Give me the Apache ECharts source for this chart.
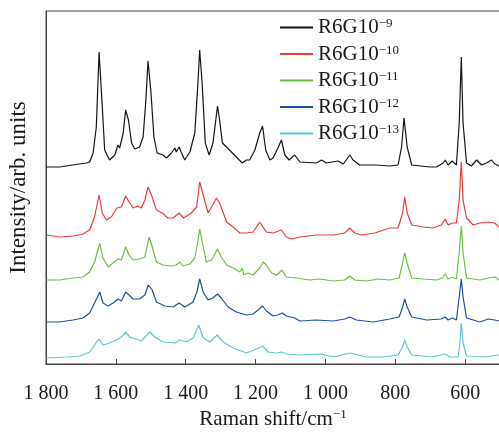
<!DOCTYPE html>
<html>
<head>
<meta charset="utf-8">
<style>html,body{margin:0;padding:0;background:#fff;}#chart{width:499px;height:432px;}</style>
<script src="https://cdn.jsdelivr.net/npm/echarts@6/dist/echarts.min.js"></script>
</head>
<body>
<div id="chart"></div>
<script>
// Raman shift (cm^-1) and intensity (arb. units, offset traces)
const shiftBlack = [1799,1761,1724,1684,1675,1665,1656,1648,1640,1632,1618,1603,1594,1589,1579,1572,1564,1555,1546,1532,1522,1514,1508,1500,1491,1482,1465,1455,1441,1431,1427,1419,1412,1403,1388,1374,1365,1360,1353,1344,1333,1322,1309,1303,1295,1283,1269,1255,1238,1226,1217,1202,1188,1180,1171,1159,1150,1136,1126,1116,1104,1088,1073,1026,1011,997,964,949,930,921,902,854,816,792,782,775,766,753,701,682,663,657,649,637,625,617,611,606,596,582,567,553,539,524,515,503];
const intBlack = [197,197,199,201,202,211,237,312,264,214,204,209,219,216,231,254,244,221,215,217,227,264,303,274,227,211,209,206,211,216,212,217,211,204,212,231,281,314,281,221,209,221,258,244,221,217,212,207,201,204,204,214,231,238,214,204,206,216,224,209,204,209,202,201,204,201,203,200,209,204,199,199,198,199,217,246,217,199,197,197,201,204,199,203,199,241,307,241,201,198,204,199,201,204,200,198];

const shiftRed = [1799,1761,1723,1694,1675,1661,1648,1639,1627,1613,1597,1584,1572,1562,1551,1538,1527,1517,1508,1498,1484,1467,1451,1436,1419,1406,1384,1369,1360,1350,1336,1323,1312,1303,1283,1264,1245,1226,1207,1188,1183,1169,1150,1126,1112,1097,1073,1026,978,945,930,916,897,859,816,792,779,773,766,753,720,692,668,657,649,637,625,617,611,606,596,577,558,534,515,503];
const intRed = [129,127,128,130,134,147,169,151,144,147,156,157,168,162,156,158,156,164,177,169,154,151,146,146,151,146,151,157,182,169,151,159,166,161,142,137,131,131,132,142,143,132,131,134,127,125,127,129,129,131,136,131,129,131,136,136,151,167,151,139,137,136,139,145,139,141,141,164,202,164,146,139,141,142,141,137];

const shiftGreen = [1799,1761,1723,1694,1675,1661,1646,1637,1622,1608,1594,1584,1572,1562,1551,1532,1517,1505,1495,1484,1465,1441,1427,1417,1408,1388,1374,1366,1360,1352,1341,1326,1309,1298,1283,1264,1245,1238,1234,1221,1207,1188,1178,1169,1154,1140,1124,1112,1083,1045,1016,978,945,930,916,882,849,816,789,779,773,766,753,720,682,665,657,649,637,625,617,611,606,596,558,534,515,503];
const intGreen = [84,84,86,87,92,102,121,106,97,101,105,104,117,109,104,105,107,127,116,102,99,98,99,102,98,100,106,121,135,121,102,104,115,107,99,96,92,96,89,91,89,96,102,99,91,89,94,87,86,84,85,83,84,88,84,83,85,84,86,101,111,101,86,85,84,86,90,85,87,85,111,138,111,86,84,86,87,84];

const shiftBlue = [1799,1761,1723,1694,1675,1661,1646,1637,1622,1608,1594,1584,1572,1562,1551,1532,1517,1507,1496,1484,1460,1436,1419,1403,1379,1368,1360,1350,1336,1322,1309,1298,1279,1255,1226,1207,1193,1180,1169,1150,1136,1124,1112,1088,1073,1026,978,945,930,911,863,816,789,779,773,766,753,710,668,657,649,637,625,617,611,606,596,558,534,515,503];
const intBlue = [42,42,44,46,51,61,72,61,58,61,65,63,72,69,65,65,69,79,74,62,58,57,61,57,62,72,85,72,64,66,70,66,57,52,49,50,54,58,53,48,49,51,48,46,43,44,43,45,47,44,42,45,47,57,65,57,47,44,45,47,44,46,44,67,85,67,46,42,45,44,43];

const shiftCyan = [1799,1742,1703,1675,1661,1649,1637,1618,1598,1584,1572,1560,1527,1503,1489,1465,1431,1417,1398,1379,1363,1350,1331,1310,1293,1264,1226,1197,1180,1164,1140,1126,1112,1073,1011,978,930,882,835,792,779,773,766,753,692,658,644,620,615,611,606,596,548,503];
const intCyan = [6,7,8,12,19,25,19,21,24,27,32,27,23,32,27,22,21,24,22,26,39,26,22,29,22,16,11,15,18,12,11,12,10,9,10,7,11,7,7,9,17,24,17,9,7,10,7,7,21,41,21,8,7,9];

const seriesBase = 'R6G10';
const seriesExponents = ['−9', '−10', '−11', '−12', '−13'];
const seriesColors = ['#151515', '#ee3a3a', '#6cbf45', '#1f4ea5', '#5cc7d2'];
const shifts = [shiftBlack, shiftRed, shiftGreen, shiftBlue, shiftCyan];
const intensities = [intBlack, intRed, intGreen, intBlue, intCyan];

const xTicks = [1800, 1600, 1400, 1200, 1000, 800, 600];

const FONT = "'Liberation Serif', 'Times New Roman', serif";
const chart = echarts.init(document.getElementById('chart'), null, {renderer: 'canvas'});

const series = seriesExponents.map((e, k) => ({
  name: seriesBase + '^' + e,
  type: 'line',
  symbol: 'none',
  showSymbol: false,
  smooth: false,
  animation: false,
  lineStyle: {color: seriesColors[k], width: 1.2},
  itemStyle: {color: seriesColors[k]},
  data: shifts[k].map((s, i) => [s, intensities[k][i]])
}));

chart.setOption({
  animation: false,
  backgroundColor: '#fff',
  grid: {left: 46, width: 489, top: 11, bottom: 68, show: true, borderColor: '#444', borderWidth: 1,
         outerBoundsMode: 'none', containLabel: false},
  legend: {
    orient: 'vertical',
    left: 280,
    top: 17,
    padding: 0,
    icon: 'rect',
    itemWidth: 33,
    itemHeight: 2,
    itemGap: 5.5,
    formatter: function (name) {
      const e = name.split('^')[1];
      return '{a|' + seriesBase + '}{b|' + e + '}';
    },
    textStyle: {
      color: '#1a1a1a',
      fontFamily: FONT,
      rich: {
        a: {fontSize: 21, lineHeight: 20, fontFamily: FONT, color: '#1a1a1a'},
        b: {fontSize: 13, lineHeight: 13, fontFamily: FONT, color: '#1a1a1a', verticalAlign: 'top'}
      }
    }
  },
  xAxis: {
    type: 'value',
    inverse: true,
    min: 400,
    max: 1800,
    interval: 200,
    axisLine: {show: true, lineStyle: {color: '#444', width: 1}},
    axisTick: {show: true, inside: true, length: 5, lineStyle: {color: '#444'}},
    splitLine: {show: false},
    axisLabel: {
      color: '#1a1a1a',
      fontFamily: FONT,
      fontSize: 20,
      margin: 20,
      formatter: function (v) {
        if (xTicks.indexOf(v) < 0) return '';
        return v >= 1000 ? Math.floor(v / 1000) + ' ' + String(v % 1000).padStart(3, '0') : String(v);
      }
    }
  },
  yAxis: {
    type: 'value',
    min: 0,
    max: 353,
    name: 'Intensity/arb. units',
    nameLocation: 'middle',
    nameGap: 16,
    nameTextStyle: {color: '#1a1a1a', fontFamily: FONT, fontSize: 23},
    axisLine: {show: true, lineStyle: {color: '#444', width: 1}},
    axisTick: {show: false},
    axisLabel: {show: false},
    splitLine: {show: false}
  },
  graphic: [{
    type: 'text',
    x: 273,
    y: 408,
    style: {
      text: '{a|Raman shift/cm}{b|−1}',
      align: 'center',
      fill: '#1a1a1a',
      rich: {
        a: {fontSize: 21, lineHeight: 22, fontFamily: FONT, fill: '#1a1a1a'},
        b: {fontSize: 13, lineHeight: 13, fontFamily: FONT, fill: '#1a1a1a', verticalAlign: 'top'}
      }
    }
  }],
  series: series
});
</script>
</body>
</html>
